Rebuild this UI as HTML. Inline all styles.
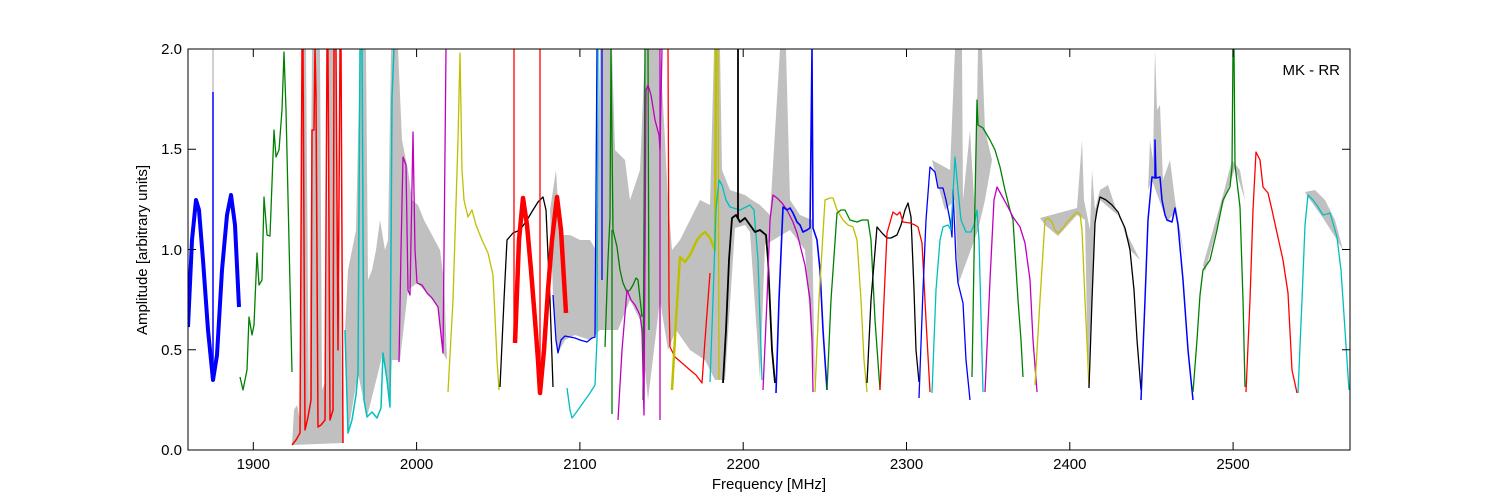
<!DOCTYPE html>
<html><head><meta charset="utf-8"><style>
html,body{margin:0;padding:0;background:#fff;}
svg{display:block;font-family:"Liberation Sans",sans-serif;}
</style></head><body>
<svg width="1500" height="500" viewBox="0 0 1500 500" xmlns="http://www.w3.org/2000/svg">
<rect width="1500" height="500" fill="#fff"/>
<defs><clipPath id="c"><rect x="188" y="49" width="1162" height="401"/></clipPath></defs>
<g clip-path="url(#c)" fill="none" stroke-width="1.3" stroke-linejoin="round">
<!-- gray background -->
<g fill="#c0c0c0" stroke="none">
<polygon points="292,445 294,410 297,405 300,420 302,49 306,49 309,420 312,49 320,49 322,390 326,380 329,49 336,49 338,260 340,300 343,443"/>
<polygon points="345,330 348,270 352,250 356,230 360,49 366,49 368,280 372,270 376,250 380,220 385,250 388,240 391,49 398,49 402,140 408,170 412,200 418,205 424,220 432,235 440,250 444,280 447,360 443,353 438,307 427,293 417,283 408,290 400,360 392,360 390,407 383,353 367,417 358,373 348,433"/>
<polygon points="550,210 556,170 560,235 570,235 580,240 590,240 596,250 600,49 612,49 615,150 625,160 630,200 640,170 645,49 660,49 665,140 668,200 672,250 680,240 690,220 700,200 710,205 714,49 720,49 722,170 730,190 745,195 752,200 760,205 770,215 780,49 786,49 790,200 800,215 812,220 815,390 805,250 790,230 765,245 760,380 750,232 745,225 735,228 725,380 715,380 705,360 690,350 676,330 668,350 660,300 648,400 640,320 630,300 618,330 610,330 600,330 590,340 575,335 565,340 558,353 553,295"/>
<polygon points="950,170 955,49 962,49 963,200 970,130 975,215 978,49 982,49 985,130 992,160 985,200 978,230 958,285 955,200 945,210 938,185 932,160"/>
<polygon points="1040,218 1077,208 1082,140 1084,200 1090,230 1092,170 1095,210 1100,190 1108,185 1118,215 1125,230 1140,260 1130,250 1120,217 1100,200 1095,225 1088,380 1085,220 1077,215 1058,236 1045,225"/>
<polygon points="1148,190 1150,140 1153,160 1155,49 1157,110 1160,105 1163,180 1170,160 1175,200 1180,230 1185,260 1175,212 1167,222 1152,180"/>
<polygon points="1203,265 1223,195 1232,160 1240,170 1245,200 1235,168 1223,205 1205,272"/>
<polygon points="1305,192 1315,190 1325,200 1335,220 1343,250 1337,240 1323,218 1308,197"/>
</g>
<!-- series -->
<polyline stroke="#0000ff" stroke-width="4" points="188,327 192,240 196,200 199,210 203,260 208,330 213,380 217,355 222,270 227,215 231,195 235,225 239,307"/>
<polyline stroke="#c0c0c0" stroke-width="1.5" points="213,49 213,92"/>
<polyline stroke="#0000ff" stroke-width="1.5" points="213,380 213,92"/>
<polyline stroke="#008000" points="240,377 243,390 247,370 249,317 252,335 254,325 257,253 259,285 262,280 264,197 267,235 270,236 274,130 276,157 279,150 282,110 284,52 286,110 292,372"/>
<polyline stroke="#ff0000" stroke-width="1.5" points="292,445 296,440 300,433 302,49 303,49 305,430 308,417 311,400 312,130 314,130 315,49 316,95 318,427 321,425 325,420 327,49 328,49 330,420 333,410 334,49 336,49 338,350 340,49 341,49 343,443"/>
<polyline stroke="#00bfbf" stroke-width="1.5" points="345,330 347,400 348,433 352,420 356,395 358,373 360,49 362,49 364,400 367,417 372,412 377,418 381,408 383,353 387,380 390,407 392,97 394,49"/>
<polyline stroke="#bf00bf" points="399,362 401,250 403,157 406,165 408,290 410,295 413,132 415,250 417,283 422,285 427,293 432,298 438,307 443,353 446,49"/>
<polyline stroke="#bfbf00" points="448,392 453,300 458,140 460,53 462,170 464,200 468,217 472,210 476,225 482,240 488,253 493,275 497,360 499,390"/>
<polyline stroke="#000000" points="500,387 504,300 507,240 513,233 520,230 527,220 533,210 538,202 543,197 546,210 550,300 553,387"/>
<polyline stroke="#ff0000" stroke-width="1.3" points="514,49 514,343"/>
<polyline stroke="#ff0000" stroke-width="1.3" points="540,49 540,393"/>
<polyline stroke="#ff0000" stroke-width="4.5" points="515,343 519,240 523,198 527,225 531,270 535,320 538,360 540,393 544,350 548,290 552,240 557,197 561,230 564,280 566,313"/>
<polyline stroke="#0000ff" points="553,295 556,340 558,353 561,340 565,336 570,337 575,338 580,340 587,342 592,338 595,337 597,49"/>
<polyline stroke="#0000ff" points="602,49 602,280"/>
<polyline stroke="#00bfbf" points="567,388 570,410 572,418 578,410 585,400 590,393 595,385 597,340 598,49"/>
<polyline stroke="#008000" points="605,347 608,260 610,217 611,49 613,230 617,247 620,270 623,283 627,292 630,290 633,285 636,278 638,280 642,317"/>
<polyline stroke="#008000" points="612,414 612,230"/>
<polyline stroke="#008000" points="643,400 645,49 648,49 649,330"/>
<polyline stroke="#bf00bf" points="618,420 622,350 627,290 631,300 635,305 640,315 642,330 644,415 646,90 648,85 651,95 655,120 659,135 660,150 662,49"/>
<polyline stroke="#bf00bf" points="660,420 660,49"/>
<polyline stroke="#ff0000" points="668,49 669,300 670,347 675,357 682,363 690,370 696,375 702,383 705,340 710,273"/>
<polyline stroke="#bfbf00" stroke-width="2.5" points="672,390 676,320 680,257 685,262 690,255 697,240 701,235 705,232 710,238 715,250 716,49"/>
<polyline stroke="#bfbf00" points="718,49 719,380"/>
<polyline stroke="#00bfbf" points="710,382 713,300 716,210 719,180 722,185 726,200 730,207 740,210 750,205 754,210 758,260 762,380"/>
<polyline stroke="#000000" stroke-width="1.8" points="723,383 726,330 729,260 732,218 736,215 740,222 745,218 750,225 755,232 760,230 766,235 768,260 772,350 775,383"/>
<polyline stroke="#000000" stroke-width="1.8" points="738,49 738,218"/>
<polyline stroke="#bf00bf" points="763,390 767,300 770,220 773,195 777,198 782,203 787,210 793,222 797,233 800,245 805,265 810,300 812,340 813,392"/>
<polyline stroke="#0000ff" stroke-width="1.6" points="776,393 779,300 783,207 787,210 790,208 793,213 797,222 800,225 803,232 807,230 810,228 812,49 813,228 817,240 820,270 823,330 827,390"/>
<polyline stroke="#bfbf00" points="815,392 819,300 825,200 830,198 833,198 837,210 843,220 848,225 853,227 857,240 861,300 864,360 867,392"/>
<polyline stroke="#008000" points="827,390 831,300 837,213 841,210 845,210 850,220 857,222 862,220 868,220 871,240 875,320 880,390"/>
<polyline stroke="#000000" points="867,383 871,300 877,227 882,233 887,238 891,238 897,235 901,225 905,210 908,203 911,217 914,290 916,350 919,382"/>
<polyline stroke="#ff0000" points="880,390 884,300 887,233 893,212 897,215 900,212 903,222 910,223 915,225 918,227 922,243 926,320 930,392"/>
<polyline stroke="#0000ff" points="919,398 923,290 926,220 930,167 935,172 938,188 943,188 946,200 950,220 952,237 953,190 956,260 958,283 963,303 966,360 970,400"/>
<polyline stroke="#00bfbf" points="932,393 936,290 940,240 943,227 948,225 951,230 955,157 958,190 961,220 966,232 971,232 974,225 977,210 979,240 983,392"/>
<polyline stroke="#008000" points="972,377 975,200 977,100 978,125 983,128 990,140 995,150 1000,167 1005,190 1010,210 1013,220 1018,300 1021,340 1023,377"/>
<polyline stroke="#bf00bf" points="985,392 990,280 994,200 997,187 1002,196 1008,207 1013,217 1020,227 1025,243 1030,280 1033,340 1037,392"/>
<polyline stroke="#bfbf00" points="1035,385 1040,300 1045,220 1048,218 1052,222 1055,230 1058,233 1063,228 1067,222 1072,217 1077,212 1080,214 1082,230 1085,300 1089,387"/>
<polyline stroke="#000000" points="1089,388 1092,300 1095,223 1097,210 1100,197 1106,200 1112,205 1118,212 1120,217 1125,228 1130,250 1134,290 1137,340 1141,390"/>
<polyline stroke="#0000ff" stroke-width="1.5" points="1141,400 1145,300 1148,220 1152,177 1155,178 1155,140 1156,178 1160,177 1162,200 1165,215 1167,220 1172,222 1175,208 1178,225 1183,280 1188,350 1193,400"/>
<polyline stroke="#008000" points="1193,392 1197,340 1200,295 1203,270 1210,260 1217,230 1223,200 1230,187 1232,167 1233,49 1234,49 1235,165 1240,207 1243,300 1245,387"/>
<polyline stroke="#ff0000" points="1246,392 1250,300 1253,210 1256,152 1260,160 1263,187 1268,193 1272,210 1277,233 1283,260 1288,293 1292,370 1297,393"/>
<polyline stroke="#00bfbf" points="1298,393 1302,300 1305,225 1308,195 1313,200 1318,207 1323,215 1327,214 1330,213 1337,237 1341,270 1345,330 1349,390"/>
</g>
<!-- axes -->
<rect x="188" y="49" width="1162" height="401" fill="none" stroke="#000" stroke-width="1"/>
<g stroke="#000" stroke-width="1">
<line x1="253.3" y1="450" x2="253.3" y2="442"/><line x1="253.3" y1="49" x2="253.3" y2="57"/>
<line x1="416.6" y1="450" x2="416.6" y2="442"/><line x1="416.6" y1="49" x2="416.6" y2="57"/>
<line x1="579.9" y1="450" x2="579.9" y2="442"/><line x1="579.9" y1="49" x2="579.9" y2="57"/>
<line x1="743.2" y1="450" x2="743.2" y2="442"/><line x1="743.2" y1="49" x2="743.2" y2="57"/>
<line x1="906.5" y1="450" x2="906.5" y2="442"/><line x1="906.5" y1="49" x2="906.5" y2="57"/>
<line x1="1069.8" y1="450" x2="1069.8" y2="442"/><line x1="1069.8" y1="49" x2="1069.8" y2="57"/>
<line x1="1233.1" y1="450" x2="1233.1" y2="442"/><line x1="1233.1" y1="49" x2="1233.1" y2="57"/>
<line x1="188" y1="349.75" x2="196" y2="349.75"/><line x1="1350" y1="349.75" x2="1342" y2="349.75"/>
<line x1="188" y1="249.5" x2="196" y2="249.5"/><line x1="1350" y1="249.5" x2="1342" y2="249.5"/>
<line x1="188" y1="149.25" x2="196" y2="149.25"/><line x1="1350" y1="149.25" x2="1342" y2="149.25"/>
</g>
<g font-size="15" fill="#000" text-anchor="middle">
<text x="253.3" y="469">1900</text><text x="416.6" y="469">2000</text><text x="579.9" y="469">2100</text>
<text x="743.2" y="469">2200</text><text x="906.5" y="469">2300</text><text x="1069.8" y="469">2400</text>
<text x="1233.1" y="469">2500</text>
<text x="769" y="489">Frequency [MHz]</text>
</g>
<g font-size="15" fill="#000" text-anchor="end">
<text x="182" y="455">0.0</text><text x="182" y="355">0.5</text><text x="182" y="255">1.0</text>
<text x="182" y="154">1.5</text><text x="182" y="54">2.0</text>
<text x="1340" y="75">MK - RR</text>
</g>
<text x="147" y="250" font-size="15" text-anchor="middle" transform="rotate(-90 147 250)">Amplitude [arbitrary units]</text>
</svg>
</body></html>
